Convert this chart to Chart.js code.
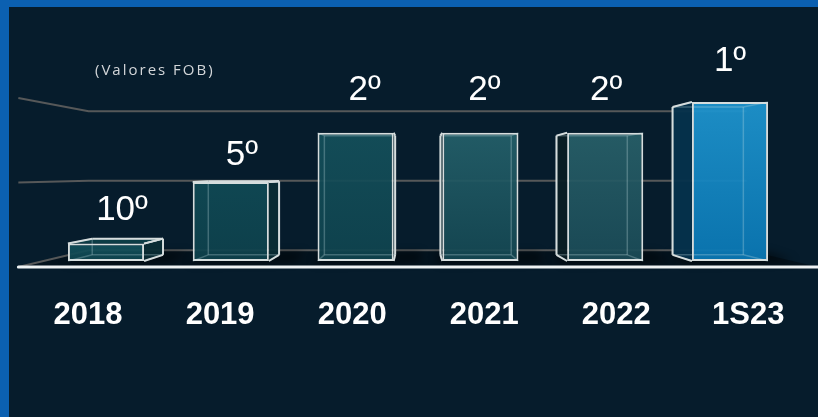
<!DOCTYPE html>
<html><head><meta charset="utf-8">
<script src="https://cdn.jsdelivr.net/npm/chart.js@4.4.1/dist/chart.umd.min.js"></script>
<style>html,body{margin:0;padding:0;background:#061c2c;overflow:hidden}canvas{display:block}</style>
</head><body>
<canvas id="c" width="818" height="417"></canvas>
<script>
// ---- data ----
const categories = ['2018', '2019', '2020', '2021', '2022', '1S23'];
const values = [0.22, 1.0, 1.62, 1.62, 1.62, 2.01];
const rankLabels = ['10º', '5º', '2º', '2º', '2º', '1º'];
const gridValues = [0, 1, 2];
const subtitle = '(Valores FOB)';

// ---- styles ----
const frontTop = ['rgba(19,82,93,0.92)', 'rgba(16,74,85,0.92)', 'rgba(20,80,91,0.92)', 'rgba(36,96,106,0.92)', 'rgba(40,96,105,0.92)', 'rgba(30,148,206,0.94)'];
const frontBot = ['rgba(15,70,80,0.92)', 'rgba(14,66,77,0.92)', 'rgba(15,68,79,0.92)', 'rgba(21,72,83,0.92)', 'rgba(27,76,88,0.92)', 'rgba(10,120,181,0.94)'];
const sideCol = ['rgba(9,44,52,0.95)', 'rgba(9,44,52,0.95)', 'rgba(10,44,52,0.95)', 'rgba(10,40,48,0.95)', 'rgba(9,30,36,0.95)', 'rgba(5,50,76,0.95)'];
const topCol = ['rgba(13,62,71,0.95)', 'rgba(13,62,71,0.95)', 'rgba(13,62,71,0.95)', 'rgba(13,62,71,0.95)', 'rgba(13,62,71,0.95)', 'rgba(13,62,71,0.95)'];
const rankDx = [16, 11, 9, 4, 1, 0];
const rankDy = [-24, -17, -33, -33, -33, -31];
const VP = { x: 415, y: 173 };
const DEPTH = 0.07, WALL = 0.121, FRONT = -0.068, LABEL = -0.058;
const EDGE = '#d6dddd', FAINT = 'rgba(200,225,230,0.28)';

function proj(x, y, t) { return { x: x + (VP.x - x) * t, y: y + (VP.y - y) * t }; }
function poly(ctx, pts) { ctx.beginPath(); ctx.moveTo(pts[0].x, pts[0].y); for (let k = 1; k < pts.length; k++) ctx.lineTo(pts[k].x, pts[k].y); ctx.closePath(); }
function seg(ctx, a, b) { ctx.beginPath(); ctx.moveTo(a.x, a.y); ctx.lineTo(b.x, b.y); ctx.stroke(); }

function barGeom(bar) {
  const p = bar.getProps(['x', 'y', 'base', 'width'], true);
  const x1 = p.x - p.width / 2, x2 = p.x + p.width / 2, top = p.y, base = p.base;
  return {
    cx: p.x, x1, x2, top, base,
    FTL: { x: x1, y: top }, FTR: { x: x2, y: top }, FBL: { x: x1, y: base }, FBR: { x: x2, y: base },
    BTL: proj(x1, top, DEPTH), BTR: proj(x2, top, DEPTH), BBL: proj(x1, base, DEPTH), BBR: proj(x2, base, DEPTH)
  };
}

const scene = {
  id: 'scene',
  beforeDraw(chart) {
    const { ctx, width, height } = chart;
    const { left, right } = chart.chartArea;
    const ys = chart.scales.y;
    ctx.save();
    ctx.fillStyle = '#0b60b1';
    ctx.fillRect(0, 0, width, height);
    ctx.fillStyle = '#061c2c';
    ctx.fillRect(9, 7, width - 9, height - 7);
    const y0 = ys.getPixelForValue(0);
    // floor
    const f1 = proj(left, y0, FRONT), f2 = proj(right, y0, FRONT), b1 = proj(left, y0, WALL), b2 = proj(right, y0, WALL);
    ctx.fillStyle = '#04131e';
    poly(ctx, [f1, f2, b2, b1]); ctx.fill();
    // grid lines on the walls
    ctx.strokeStyle = '#565859';
    ctx.lineWidth = 2;
    gridValues.forEach(v => {
      const yy = ys.getPixelForValue(v);
      const a = proj(left, yy, FRONT), b = proj(left, yy, WALL), c = proj(right, yy, WALL);
      ctx.beginPath(); ctx.moveTo(a.x, a.y); ctx.lineTo(b.x, b.y); ctx.lineTo(c.x, c.y); ctx.stroke();
    });
    // subtitle
    ctx.fillStyle = '#d3d6d9';
    ctx.font = '15px "Open Sans"';
    ctx.letterSpacing = '2px';
    ctx.textBaseline = 'alphabetic';
    ctx.textAlign = 'left';
    ctx.fillText(subtitle, 95, 75);
    ctx.restore();
  },
  beforeDatasetsDraw(chart) {
    const { ctx } = chart;
    const meta = chart.getDatasetMeta(0);
    ctx.save();
    // shadows
    meta.data.forEach((bar) => {
      const g = barGeom(bar);
      ctx.save();
      ctx.filter = 'blur(4px)';
      ctx.fillStyle = 'rgba(0,0,0,0.55)';
      poly(ctx, [{ x: g.x1 - 4, y: g.base + 2 }, { x: g.x2 + 26, y: g.base }, { x: g.BBR.x + 26, y: g.BBR.y - 2 }, { x: g.BBL.x - 4, y: g.BBL.y }]);
      ctx.fill();
      ctx.restore();
    });
    meta.data.forEach((bar, i) => {
      const g = barGeom(bar);
      if (g.x2 < VP.x) { ctx.fillStyle = sideCol[i]; poly(ctx, [g.FTR, g.BTR, g.BBR, g.FBR]); ctx.fill(); }
      if (g.x1 > VP.x) { ctx.fillStyle = sideCol[i]; poly(ctx, [g.FTL, g.BTL, g.BBL, g.FBL]); ctx.fill(); }
      if (g.top > VP.y) { ctx.fillStyle = topCol[i]; poly(ctx, [g.FTL, g.FTR, g.BTR, g.BTL]); ctx.fill(); }
    });
    ctx.restore();
  },
  afterDatasetsDraw(chart) {
    const { ctx } = chart;
    const meta = chart.getDatasetMeta(0);
    const ys = chart.scales.y;
    ctx.save();
    ctx.lineJoin = 'round';
    meta.data.forEach((bar, i) => {
      const g = barGeom(bar);
      // hidden (see-through) edges
      ctx.strokeStyle = FAINT; ctx.lineWidth = 1.5;
      [[g.BTL, g.BTR], [g.BTR, g.BBR], [g.BBR, g.BBL], [g.BBL, g.BTL], [g.FTL, g.BTL], [g.FTR, g.BTR], [g.FBL, g.BBL], [g.FBR, g.BBR]].forEach(e => seg(ctx, e[0], e[1]));
      // visible silhouette edges
      ctx.strokeStyle = EDGE; ctx.lineWidth = 2;
      if (g.x2 < VP.x) { seg(ctx, g.FTR, g.BTR); seg(ctx, g.BTR, g.BBR); seg(ctx, g.BBR, g.FBR); }
      if (g.x1 > VP.x) { seg(ctx, g.FTL, g.BTL); seg(ctx, g.BTL, g.BBL); seg(ctx, g.BBL, g.FBL); }
      if (g.top > VP.y) { seg(ctx, g.FTL, g.BTL); seg(ctx, g.BTL, g.BTR); seg(ctx, g.BTR, g.FTR); }
    });
    // floor front edge (white)
    const { left, right } = chart.chartArea;
    const y0 = ys.getPixelForValue(0);
    const f1 = proj(left, y0, FRONT), f2 = proj(right, y0, FRONT);
    ctx.strokeStyle = '#eef2f3'; ctx.lineWidth = 3; ctx.lineCap = 'round';
    seg(ctx, f1, f2);
    // rank labels
    ctx.fillStyle = '#ffffff';
    ctx.textAlign = 'center';
    ctx.textBaseline = 'alphabetic';
    ctx.font = '35px "Liberation Sans", Arial, sans-serif';
    meta.data.forEach((bar, i) => {
      const g = barGeom(bar);
      ctx.fillText(rankLabels[i], g.cx + rankDx[i], g.top + rankDy[i]);
    });
    // category labels
    ctx.font = 'bold 31px "Liberation Sans", Arial, sans-serif';
    meta.data.forEach((bar, i) => {
      const p = proj(bar.x, y0, LABEL);
      ctx.fillText(categories[i], p.x, 323.5);
    });
    ctx.restore();
  }
};

new Chart(document.getElementById('c'), {
  type: 'bar',
  data: {
    labels: categories,
    datasets: [{
      data: values,
      backgroundColor: (c) => {
        const i = c.dataIndex;
        const chart = c.chart;
        if (!chart.chartArea || c.type !== 'data') return frontTop[i];
        const ys = chart.scales.y;
        const t = ys.getPixelForValue(values[i]), b = ys.getPixelForValue(0);
        const gr = chart.ctx.createLinearGradient(0, t, 0, b);
        gr.addColorStop(0, frontTop[i]);
        gr.addColorStop(1, frontBot[i]);
        return gr;
      },
      borderColor: EDGE,
      borderWidth: 2,
      borderSkipped: false,
      barPercentage: 0.61,
      categoryPercentage: 1.0
    }]
  },
  options: {
    responsive: false,
    animation: false,
    devicePixelRatio: 1,
    layout: { padding: { left: 43.6, right: 25.6, top: 55.3, bottom: 156 } },
    scales: {
      x: { display: false },
      y: { display: false, min: 0, max: 2.6 }
    },
    plugins: { legend: { display: false }, tooltip: { enabled: false }, title: { display: false } }
  },
  plugins: [scene]
});
</script>
</body></html>
